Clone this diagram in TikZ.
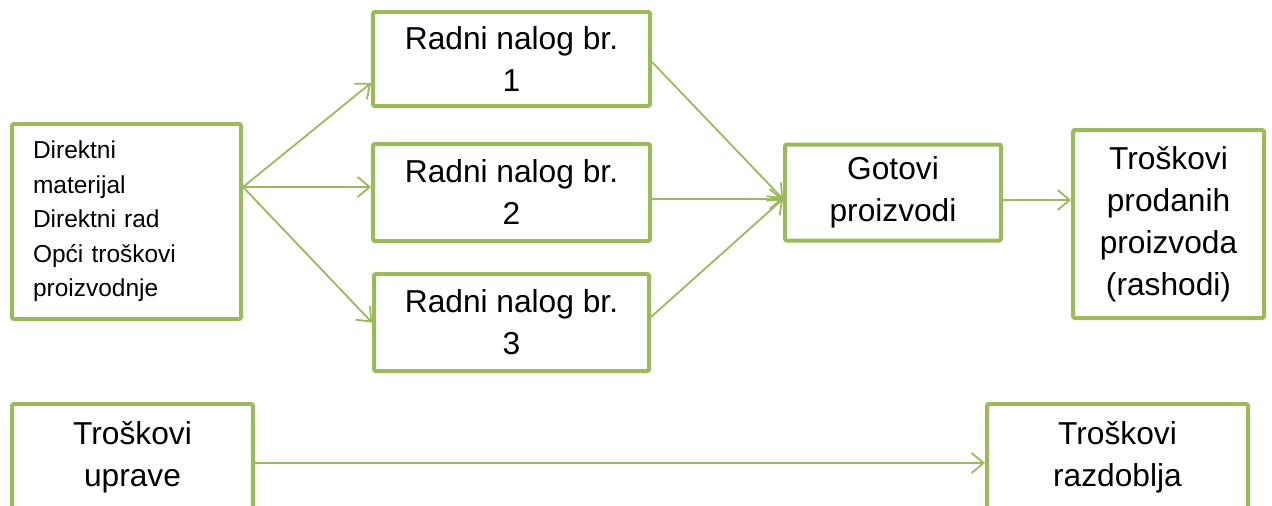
\documentclass[tikz,border=0pt]{standalone}
\usepackage{fontspec}
\setmainfont{Liberation Sans}
\usetikzlibrary{arrows.meta,positioning}
\definecolor{olivegreen}{RGB}{155,187,89}
\tikzset{
    box/.style={draw=olivegreen, line width=4pt, rounded corners=2pt, align=center,
        font=\fontsize{31.7}{42}\selectfont},
    link/.style={draw=olivegreen, line width=1.8pt, ->},
}

\begin{document}
\begin{tikzpicture}[x=1pt,y=1pt,on grid,auto,>={Straight Barb[length=12pt,width=20pt]}]
    \clip (0,0) rectangle (1272,-506);
    \node[box, align=left, text width=187pt, inner xsep=21pt, minimum height=195pt,
        font=\fontsize{24.5}{34.5}\selectfont](mat) at (126.5,-221.5)
        {Direktni\\ materijal\\ Direktni rad\\ Opći troškovi\\ proizvodnje};
    \node[box, minimum width=277pt, minimum height=94pt, above right=162.5pt and 385pt of mat](rn1){Radni nalog br.\\ 1};
    \node[box, minimum width=277pt, minimum height=97pt, below=133.5pt of rn1](rn2){Radni nalog br.\\ 2};
    \node[box, minimum width=275pt, minimum height=97pt, below=130pt of rn2](rn3){Radni nalog br.\\ 3};
    \node[box, minimum width=216pt, minimum height=96pt, right=381.5pt of rn2](got){Gotovi\\ proizvodi};
    \node[box, minimum width=191pt, minimum height=188pt, below right=31.5pt and 275.5pt of got](prod){Troškovi\\ prodanih\\ proizvoda\\ (rashodi)};
    \node[box, minimum width=241pt, minimum height=106pt, below=235.5pt of mat, xshift=6pt](upr){Troškovi\\ uprave};
    \node[box, minimum width=261pt, minimum height=106pt, right=985pt of upr](raz){Troškovi\\ razdoblja};
    \path[every edge/.append style={link}]
    ([yshift=34.5pt]mat.east) edge ([yshift=-24pt]rn1.west)
        edge ([yshift=5.5pt]rn2.west)
        edge (rn3.west)
    ([yshift=-3pt]rn1.east) edge ([yshift=-6.5pt]got.west)
    ([yshift=-6.5pt]rn2.east) edge ([yshift=-6.5pt]got.west)
    ([yshift=5.5pt]rn3.east) edge ([yshift=-6.5pt]got.west)
    ([yshift=-7.5pt]got.east) edge ([yshift=24pt]prod.west)
    ([yshift=-6pt]upr.east) edge ([yshift=-6pt]raz.west);
\end{tikzpicture}
\end{document}
